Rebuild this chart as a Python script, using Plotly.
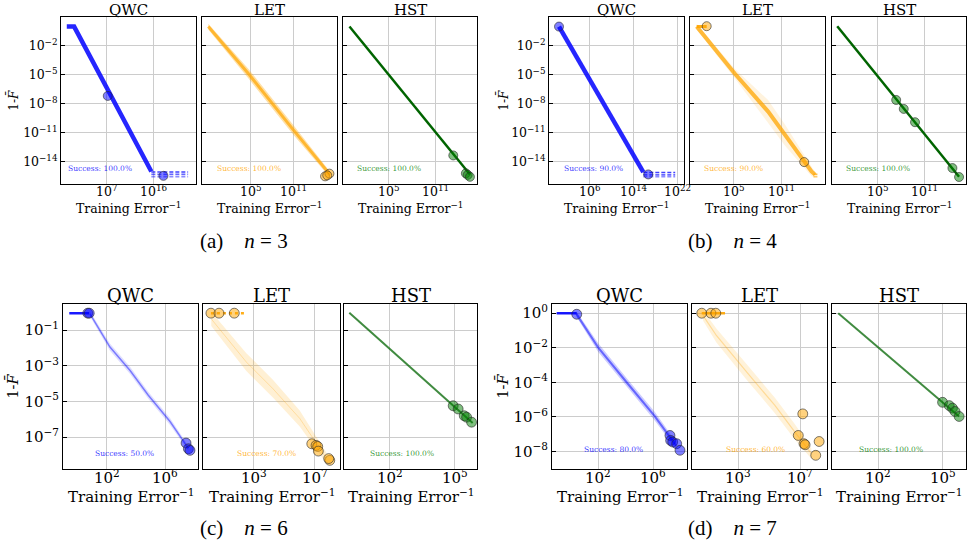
import numpy as np
import plotly.graph_objects as go

# ---------------- DATA (log10 values) ----------------
METHODS = ["QWC", "LET", "HST"]
PANELS = ["a", "b", "c", "d"]
N_QUBITS = [3, 4, 6, 7]
SUCCESS = {
    "a": [100.0, 100.0, 100.0],
    "b": [90.0, 90.0, 100.0],
    "c": [50.0, 70.0, 100.0],
    "d": [80.0, 60.0, 100.0],
}

# tick exponents
A_YTICKS = [-2, -5, -8, -11, -14]
B_YTICKS = [-2, -5, -8, -11, -14]
C_YTICKS = [-1, -3, -5, -7]
D_YTICKS = [0, -2, -4, -6, -8]
A_XTICKS = [[7, 16], [5, 11], [5, 11]]
B_XTICKS = [[6, 14, 22], [5, 11], [5, 11]]
C_XTICKS = [[2, 6], [3, 7], [2, 5]]
D_XTICKS = [[2, 6], [3, 7], [2, 5]]

# ---- panel (a) n=3 ----
A_QWC_LX = [-0.6, 0.8, 15.5]
A_QWC_LY = [0.0, 0.0, -15.05]
A_QWC_TAIL_LX = [15.5, 22.5]
A_QWC_TAIL_LY = [-15.1, -15.35, -15.6]
A_QWC_END_LX = [7.2, 17.8]
A_QWC_END_LY = [-7.2, -15.5]

A_LET_LX = [-0.78, 4.76, 11.0, 16.08]
A_LET_LY = [0.0, -4.87, -10.72, -15.37]
A_LET_SPREAD = [0.3, 0.5, 0.5, 0.3]
A_LET_END_LX = [15.4, 16.0, 15.7]
A_LET_END_LY = [-15.55, -15.27, -15.45]

A_HST_LX = [0.0, 15.5]
A_HST_LY = [0.0, -15.35]
A_HST_END_LX = [13.35, 14.97, 15.2, 15.49]
A_HST_END_LY = [-13.38, -15.24, -15.4, -15.6]

# ---- panel (b) n=4 ----
B_QWC_LX = [0.37, 15.7]
B_QWC_LY = [0.0, -15.1]
B_QWC_TAIL_LX = [15.7, 21.5]
B_QWC_TAIL_LY = [-15.15, -15.4, -15.6]
B_QWC_END_LX = [0.37, 16.6]
B_QWC_END_LY = [0.0, -15.35]

B_LET_FLAT_LX = [0.3, 1.56]
B_LET_FLAT_LY = 0.0
B_LET_LX = [0.3, 5.09, 9.3, 11.4, 14.76, 15.2]
B_LET_LY = [0.0, -4.87, -8.83, -11.24, -15.03, -15.37]
B_LET_SPREAD = [0.3, 0.5, 1.2, 1.1, 0.5, 0.3]
B_LET_TAIL_LX = [15.0, 15.6]
B_LET_TAIL_LY = [-15.35, -15.6]
B_LET_END_LX = [1.56, 13.84]
B_LET_END_LY = [0.04, -14.07]

B_HST_LX = [-0.27, 15.5]
B_HST_LY = [0.04, -15.6]
B_HST_END_LX = [7.36, 8.34, 9.8, 14.64, 15.5]
B_HST_END_LY = [-7.62, -8.55, -9.93, -14.69, -15.62]

# ---- panel (c) n=6 ----
C_QWC_FLAT_LX = [-0.57, 0.8]
C_QWC_FLAT_LY = -0.05
C_QWC_LX = [0.85, 2.22, 3.6, 4.85, 6.34, 7.6]
C_QWC_LY = [-0.09, -1.95, -3.26, -4.65, -6.12, -7.63]
C_QWC_SPREAD = [0.15, 0.2, 0.2, 0.2, 0.2, 0.15]
C_QWC_END_LX = [0.7, 0.8, 7.44, 7.6, 7.71]
C_QWC_END_LY = [-0.05, -0.05, -7.33, -7.65, -7.74]

C_LET_FLAT_LX = [0.18, 2.41]
C_LET_FLAT_LY = -0.05
C_LET_LX = [0.2, 2.5, 4.24, 6.0, 7.76]
C_LET_LY = [-0.37, -2.79, -4.28, -5.95, -8.19]
C_LET_SPREAD = [0.4, 0.5, 0.5, 0.45, 0.3]
C_LET_END_LX = [0.18, 0.71, 1.71, 6.79, 7.07, 7.18, 7.22, 7.97, 7.9]
C_LET_END_LY = [-0.05, -0.05, -0.05, -7.37, -7.46, -7.52, -7.78, -8.3, -8.2]

C_HST_LX = [0.125, 5.82]
C_HST_LY = [-0.02, -6.2]
C_HST_END_LX = [4.92, 5.15, 5.43, 5.54, 5.77]
C_HST_END_LY = [-5.24, -5.42, -5.8, -5.88, -6.16]

# ---- panel (d) n=7 ----
D_QWC_FLAT_LX = [-1.03, 0.43]
D_QWC_FLAT_LY = 0.0
D_QWC_LX = [0.4, 1.98, 4.16, 6.1, 7.67]
D_QWC_LY = [-0.04, -1.98, -4.1, -5.96, -7.68]
D_QWC_SPREAD = [0.15, 0.25, 0.25, 0.25, 0.2]
D_QWC_END_LX = [0.43, 7.21, 7.26, 7.41, 7.7, 7.94]
D_QWC_END_LY = [-0.06, -7.08, -7.37, -7.46, -7.56, -7.94]

D_LET_FLAT_LX = [0.63, 2.14]
D_LET_FLAT_LY = 0.0
D_LET_LX = [0.72, 1.58, 3.63, 5.36, 6.66, 7.74]
D_LET_LY = [-0.14, -1.29, -3.5, -5.33, -6.87, -8.13]
D_LET_SPREAD = [0.3, 0.4, 0.45, 0.45, 0.45, 0.3]
D_LET_END_LX = [0.63, 1.23, 1.54, 7.18, 6.89, 7.26, 7.33, 8.24, 8.02]
D_LET_END_LY = [0.0, 0.0, 0.0, -5.83, -7.08, -7.56, -7.62, -7.43, -8.23]

D_HST_LX = [0.15, 5.77]
D_HST_LY = [0.0, -5.98]
D_HST_END_LX = [5.0, 5.31, 5.46, 5.58, 5.77]
D_HST_END_LY = [-5.16, -5.35, -5.5, -5.69, -5.98]

# ---------------- LAYOUT / STYLE ----------------
FW, FH = 967, 548
COLORS = {"QWC": (0, 0, 255), "LET": (255, 165, 0), "HST": (0, 128, 0)}


def rgba(c, a):
    return f"rgba({c[0]},{c[1]},{c[2]},{a})"


def fx(p):
    return p / FW


def fy(p):
    return 1 - p / FH


BOX_X = {
    "a": [(61, 196), (202, 337), (343, 477)],
    "b": [(549, 684), (690, 825), (832, 966)],
    "c": [(63, 198), (203, 340), (344, 477)],
    "d": [(552, 687), (692, 827), (832, 966)],
}
BOX_Y = {"a": (15, 183), "b": (15, 183), "c": (303, 469), "d": (303, 469)}
YRANGE = {"a": [-16.38, 1.0], "b": [-16.38, 1.0], "c": [-8.8, 0.47], "d": [-9.04, 0.54]}
XRANGE = {
    "a": [[-1.7, 24.0], [-1.65, 17.05], [-0.83, 16.4]],
    "b": [[-1.45, 23.1], [-0.54, 16.46], [-0.95, 16.4]],
    "c": [[-1.0, 8.26], [-0.34, 8.64], [-0.12, 6.02]],
    "d": [[-1.37, 8.45], [0.0, 8.75], [-0.14, 6.09]],
}
YTICKS = {"a": A_YTICKS, "b": B_YTICKS, "c": C_YTICKS, "d": D_YTICKS}
XTICKS = {"a": A_XTICKS, "b": B_XTICKS, "c": C_XTICKS, "d": D_XTICKS}
SUCC_POS = {
    "a": ([0.29, 0.345, 0.34], 167.3),
    "b": ([0.33, 0.325, 0.34], 167.3),
    "c": ([0.455, 0.466, 0.436], 452.7),
    "d": ([0.455, 0.47, 0.44], 449.3),
}
SCALE = {"a": 1.0, "b": 1.0, "c": 1.2, "d": 1.2}
TICK_SIZE = {"a": 12.5, "b": 12.5, "c": 15, "d": 15}
XLAB_DY = {"a": 6.5, "b": 6.5, "c": 7.3, "d": 7.3}
XTITLE_DY = {"a": 23.5, "b": 23.5, "c": 27, "d": 27}
CAPTION_POS = {"a": (244, 240), "b": (732, 240), "c": (244, 528), "d": (732, 528)}
YTITLE_X = {"a": 13, "b": 503, "c": 13, "d": 503}

SPECS = {
    ("a", "QWC"): dict(lx=A_QWC_LX, ly=A_QWC_LY, core=(4.5, 0.85), tail=(A_QWC_TAIL_LX, A_QWC_TAIL_LY),
                       end=(A_QWC_END_LX, A_QWC_END_LY)),
    ("a", "LET"): dict(lx=A_LET_LX, ly=A_LET_LY, spread=A_LET_SPREAD, band=0.35, core=(3.0, 0.7),
                       end=(A_LET_END_LX, A_LET_END_LY)),
    ("a", "HST"): dict(lx=A_HST_LX, ly=A_HST_LY, core=(2.5, 1.0), dark=True,
                       end=(A_HST_END_LX, A_HST_END_LY)),
    ("b", "QWC"): dict(lx=B_QWC_LX, ly=B_QWC_LY, core=(4.5, 0.85), tail=(B_QWC_TAIL_LX, B_QWC_TAIL_LY),
                       end=(B_QWC_END_LX, B_QWC_END_LY)),
    ("b", "LET"): dict(lx=B_LET_LX, ly=B_LET_LY, spread=B_LET_SPREAD, band=0.13, core=(4.0, 0.75),
                       flat=(B_LET_FLAT_LX, B_LET_FLAT_LY, "solid", 3),
                       tail=(B_LET_TAIL_LX, B_LET_TAIL_LY), end=(B_LET_END_LX, B_LET_END_LY)),
    ("b", "HST"): dict(lx=B_HST_LX, ly=B_HST_LY, core=(2.5, 1.0), dark=True,
                       end=(B_HST_END_LX, B_HST_END_LY)),
    ("c", "QWC"): dict(lx=C_QWC_LX, ly=C_QWC_LY, spread=C_QWC_SPREAD, band=0.13, core=(1.5, 0.45),
                       flat=(C_QWC_FLAT_LX, C_QWC_FLAT_LY, "solid", 2.5), end=(C_QWC_END_LX, C_QWC_END_LY)),
    ("c", "LET"): dict(lx=C_LET_LX, ly=C_LET_LY, spread=C_LET_SPREAD, band=0.17, core=(1.0, 0.25),
                       flat=(C_LET_FLAT_LX, C_LET_FLAT_LY, "dot", 2.5), end=(C_LET_END_LX, C_LET_END_LY)),
    ("c", "HST"): dict(lx=C_HST_LX, ly=C_HST_LY, core=(2.0, 0.75), dark=True,
                       end=(C_HST_END_LX, C_HST_END_LY)),
    ("d", "QWC"): dict(lx=D_QWC_LX, ly=D_QWC_LY, spread=D_QWC_SPREAD, band=0.2, core=(2.0, 0.5),
                       flat=(D_QWC_FLAT_LX, D_QWC_FLAT_LY, "solid", 2.5), end=(D_QWC_END_LX, D_QWC_END_LY)),
    ("d", "LET"): dict(lx=D_LET_LX, ly=D_LET_LY, spread=D_LET_SPREAD, band=0.15, core=(1.2, 0.3),
                       flat=(D_LET_FLAT_LX, D_LET_FLAT_LY, "solid", 2.5), end=(D_LET_END_LX, D_LET_END_LY)),
    ("d", "HST"): dict(lx=D_HST_LX, ly=D_HST_LY, core=(2.0, 0.75), dark=True,
                       end=(D_HST_END_LX, D_HST_END_LY)),
}

SERIF = "DejaVu Serif"
fig = go.Figure()
layout = dict(width=FW, height=FH, margin=dict(l=0, r=0, t=0, b=0), showlegend=False,
              plot_bgcolor="white", paper_bgcolor="white")
annotations = []


def sup(e):
    s = str(e).replace("-", "\u2212")
    return f"10<sup>{s}</sup>"


idx = 0
for p in PANELS:
    sc = SCALE[p]
    top, bot = BOX_Y[p]
    for m_i, m in enumerate(METHODS):
        idx += 1
        xa = "x" if idx == 1 else f"x{idx}"
        ya = "y" if idx == 1 else f"y{idx}"
        xl, xr = BOX_X[p][m_i]
        spec = SPECS[(p, m)]
        col = COLORS[m]
        lx = np.array(spec["lx"], dtype=float)
        ly = np.array(spec["ly"], dtype=float)

        if "spread" in spec:
            s = np.array(spec["spread"], dtype=float)
            px_ = np.concatenate([lx, lx[::-1]])
            py_ = np.concatenate([ly + s, (ly - s)[::-1]])
            fig.add_trace(go.Scatter(x=10 ** px_, y=10 ** py_, mode="lines", fill="toself",
                                     fillcolor=rgba(col, spec["band"]), line=dict(width=0),
                                     xaxis=xa, yaxis=ya, hoverinfo="skip"))
        if "flat" in spec:
            fxs, fyv, dash, w = spec["flat"]
            fig.add_trace(go.Scatter(x=10 ** np.array(fxs), y=[10 ** fyv] * len(fxs), mode="lines",
                                     line=dict(color=rgba(col, 0.9), width=w, dash=dash),
                                     xaxis=xa, yaxis=ya))
        cw, ca = spec["core"]
        ccol = (0, 100, 0) if spec.get("dark") else col
        fig.add_trace(go.Scatter(x=10 ** lx, y=10 ** ly, mode="lines",
                                 line=dict(color=rgba(ccol, ca), width=cw), xaxis=xa, yaxis=ya))
        if "tail" in spec:
            tx, tys = spec["tail"]
            for k, ty in enumerate(tys):
                fig.add_trace(go.Scatter(x=10 ** np.array(tx), y=[10 ** ty] * 2, mode="lines",
                                         line=dict(color=rgba(col, 0.75 - 0.15 * k), width=1.6,
                                                   dash="4px,2px"),
                                         xaxis=xa, yaxis=ya))
        ex, ey = spec["end"]
        fig.add_trace(go.Scatter(x=10 ** np.array(ex, dtype=float), y=10 ** np.array(ey, dtype=float),
                                 mode="markers",
                                 marker=dict(size=9 * (1.0 if sc == 1 else 1.1), color=rgba(col, 0.5),
                                             line=dict(color="rgba(40,40,40,0.6)", width=1)),
                                 xaxis=xa, yaxis=ya))

        xt = XTICKS[p][m_i]
        yt = YTICKS[p]
        tfont = dict(family=SERIF, size=TICK_SIZE[p], color="black")
        layout["xaxis" if idx == 1 else f"xaxis{idx}"] = dict(
            type="log", range=XRANGE[p][m_i], domain=[fx(xl), fx(xr)], anchor=ya,
            tickvals=[10.0 ** e for e in xt], showticklabels=False,
            showgrid=True, gridcolor="#cccccc", gridwidth=1, zeroline=False,
            showline=True, mirror=True, linecolor="black", linewidth=1, ticks="")
        layout["yaxis" if idx == 1 else f"yaxis{idx}"] = dict(
            type="log", range=YRANGE[p], domain=[fy(bot), fy(top)], anchor=xa,
            tickvals=[10.0 ** e for e in yt], ticktext=[sup(e) for e in yt],
            showticklabels=(m_i == 0), showgrid=True, gridcolor="#cccccc", gridwidth=1,
            zeroline=False, showline=True, mirror=True, linecolor="black", linewidth=1,
            ticks="inside", ticklen=4, tickcolor="black", tickfont=tfont)

        # x tick labels, placed at the tick values of this axis
        for e in xt:
            annotations.append(dict(text=sup(e), x=e, xref=xa, y=fy(bot + XLAB_DY[p]), yref="paper",
                                    xanchor="center", yanchor="middle", showarrow=False, font=tfont))

        cx = (xl + xr) / 2
        annotations.append(dict(text=m, x=fx(cx), y=fy(top - 7 * sc), xref="paper", yref="paper",
                                xanchor="center", yanchor="middle", showarrow=False,
                                font=dict(family=SERIF, size=15 * sc, color="black")))
        annotations.append(dict(text="Training Error<sup>\u22121</sup>", x=fx(cx),
                                y=fy(bot + XTITLE_DY[p]), xref="paper", yref="paper",
                                xanchor="center", yanchor="middle", showarrow=False,
                                font=dict(family=SERIF, size=12.5 * sc, color="black")))
        sxf, syp = SUCC_POS[p]
        annotations.append(dict(text=f"Success: {SUCCESS[p][m_i]:.1f}%",
                                x=fx(xl + sxf[m_i] * (xr - xl)), y=fy(syp), xref="paper", yref="paper",
                                xanchor="center", yanchor="middle", showarrow=False,
                                font=dict(family=SERIF, size=7.5, color=rgba(col, 0.8))))

    annotations.append(dict(text="1-<i>F\u0304</i>", x=fx(YTITLE_X[p]), y=fy((top + bot) / 2),
                            xref="paper", yref="paper", xanchor="center", yanchor="middle",
                            textangle=-90, showarrow=False,
                            font=dict(family=SERIF, size=12 * sc, color="black")))
    n = N_QUBITS[PANELS.index(p)]
    cxp, cyp = CAPTION_POS[p]
    annotations.append(dict(text=f"({p})\u2003<i>n</i>\u2005=\u2005{n}", x=fx(cxp), y=fy(cyp),
                            xref="paper", yref="paper", xanchor="center", yanchor="middle",
                            showarrow=False, font=dict(family="Liberation Serif", size=21, color="black")))

layout["annotations"] = annotations
fig.update_layout(**layout)
fig.write_html(
    "out.html",
    config={"displayModeBar": False},
    post_script="document.body.style.margin='0';document.body.style.padding='0';"
                "document.documentElement.style.overflow='hidden';",
)
